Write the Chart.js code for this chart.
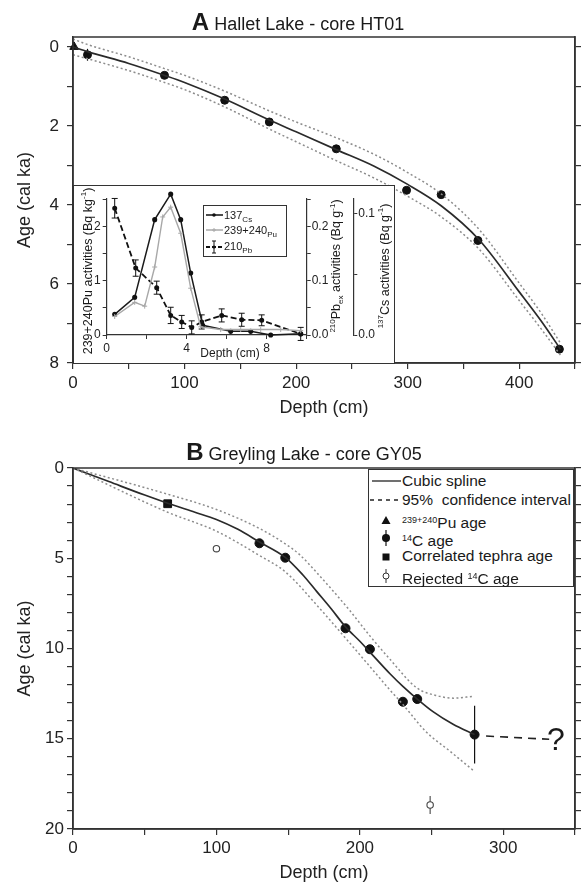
<!DOCTYPE html>
<html>
<head>
<meta charset="utf-8">
<script src="https://cdn.jsdelivr.net/npm/chart.js@4.4.1/dist/chart.umd.min.js"></script>
<style>
  body { margin: 0; background: #fff; font-family: "Liberation Sans", Arial, Helvetica, sans-serif; color: #1a1a1a; }
  #page { position: relative; width: 583px; height: 884px; overflow: hidden; background: #fff; }
  .abs { position: absolute; }
  canvas { position: absolute; }
  .title { font-size: 18px; line-height: 22px; white-space: nowrap; transform: translateX(-50%); }
  .title b { font-size: 24px; }
  .rot { white-space: nowrap; transform: translate(-50%, -50%) rotate(-90deg); font-size: 12.5px; line-height: 14px; }
  .legB { left: 368px; top: 469px; width: 206px; height: 118px; border: 1.5px solid #333; box-sizing: border-box; background: #fff; }
  .legB .row { position: absolute; left: 0; height: 18px; font-size: 15.5px; line-height: 18px; white-space: nowrap; }
  .legB .row svg { position: absolute; left: 0; top: 0; }
  .legB .row span.t { position: absolute; left: 33px; top: 0; }
  .legB sup { font-size: 9px; vertical-align: 5px; }
  .legI { left: 203px; top: 205px; width: 84px; height: 52px; border: 1.5px solid #333; box-sizing: border-box; background: #fff; }
  .legI .row { position: absolute; left: 0; height: 14px; font-size: 11px; line-height: 14px; white-space: nowrap; }
  .legI .row svg { position: absolute; left: 0; top: 0; }
  .legI .row span.t { position: absolute; left: 20px; top: 0; }
  .legI sub { font-size: 8px; vertical-align: -3px; }
</style>
</head>
<body>
<div id="page">
  <canvas id="chartA" width="583" height="425" style="left:0;top:0"></canvas>
  <canvas id="chartB" width="583" height="454" style="left:0;top:430px"></canvas>
  <canvas id="inset" width="321" height="178" style="left:73px;top:185px;background:#fff"></canvas>
  <div class="abs" style="left:73px;top:185px;width:322px;height:179px;border:1.5px solid #333;box-sizing:border-box;pointer-events:none"></div>

  <div class="abs title" style="left:298px;top:11px"><b>A</b> Hallet Lake - core HT01</div>
  <div class="abs title" style="left:304px;top:441px"><b>B</b> Greyling Lake - core GY05</div>

  <!-- inset axis titles -->
  <div class="abs rot" style="left:86px;top:271px">239+240Pu activities (Bq kg<sup style="font-size:8px">-1</sup>)</div>
  <div class="abs rot" style="left:337px;top:266px"><sup style="font-size:8px">210</sup>Pb<sub style="font-size:8px">ex</sub> activities (Bq g<sup style="font-size:8px">-1</sup>)</div>
  <div class="abs rot" style="left:383px;top:266px"><sup style="font-size:8px">137</sup>Cs activities (Bq g<sup style="font-size:8px">-1</sup>)</div>
  <div class="abs" style="left:230px;top:346px;transform:translateX(-50%);font-size:12px;line-height:14px;white-space:nowrap">Depth (cm)</div>

  <!-- inset legend -->
  <div class="abs legI">
    <div class="row" style="top:2px">
      <svg width="20" height="14"><line x1="2" y1="7" x2="19" y2="7" stroke="#111" stroke-width="1.5"/><circle cx="10" cy="7" r="1.8" fill="#111"/></svg>
      <span class="t">137<sub>Cs</sub></span>
    </div>
    <div class="row" style="top:17px">
      <svg width="20" height="14"><line x1="2" y1="7" x2="19" y2="7" stroke="#aaa" stroke-width="1.5"/><path d="M8 7h4M10 5v4" stroke="#aaa" stroke-width="1"/></svg>
      <span class="t">239+240<sub>Pu</sub></span>
    </div>
    <div class="row" style="top:33px">
      <svg width="20" height="16"><line x1="2" y1="8" x2="19" y2="8" stroke="#111" stroke-width="1.8" stroke-dasharray="4,2"/><path d="M10 2v12M8 2h4M8 14h4" stroke="#111" stroke-width="1"/><circle cx="10" cy="8" r="1.6" fill="#111"/></svg>
      <span class="t">210<sub>Pb</sub></span>
    </div>
  </div>

  <!-- panel B legend -->
  <div class="abs legB">
    <div class="row" style="top:2px">
      <svg width="32" height="18"><line x1="3" y1="9" x2="32" y2="9" stroke="#333" stroke-width="1.4"/></svg>
      <span class="t">Cubic spline</span>
    </div>
    <div class="row" style="top:21px">
      <svg width="32" height="18"><line x1="1" y1="9" x2="32" y2="9" stroke="#222" stroke-width="1.6" stroke-dasharray="4,4"/></svg>
      <span class="t">95%&nbsp; confidence interval</span>
    </div>
    <div class="row" style="top:41px">
      <svg width="32" height="18"><polygon points="17,5 21.5,13 12.5,13" fill="#111"/></svg>
      <span class="t"><sup>239+240</sup>Pu age</span>
    </div>
    <div class="row" style="top:59px">
      <svg width="32" height="18"><line x1="17" y1="1" x2="17" y2="17" stroke="#111" stroke-width="1.2"/><circle cx="17" cy="9" r="4" fill="#111"/></svg>
      <span class="t"><sup>14</sup>C age</span>
    </div>
    <div class="row" style="top:77px">
      <svg width="32" height="18"><rect x="13.5" y="6.5" width="7" height="7" fill="#111"/></svg>
      <span class="t">Correlated tephra age</span>
    </div>
    <div class="row" style="top:97px">
      <svg width="32" height="18"><line x1="17" y1="2" x2="17" y2="16" stroke="#333" stroke-width="1"/><circle cx="17" cy="9" r="3" fill="#fff" stroke="#333" stroke-width="1"/></svg>
      <span class="t">Rejected <sup>14</sup>C age</span>
    </div>
  </div>

  <div class="abs" style="left:547px;top:721px;font-size:32px;line-height:36px">?</div>
</div>

<script>
// ---- Panel A: Hallet Lake HT01 (depth cm / age cal ka) ----
const splineDepthA = [0, 13, 50, 82, 100, 136, 176, 200, 236, 270, 300, 330, 364, 400, 420, 437];
const splineAgeA   = [0, 0.12, 0.42, 0.72, 0.9, 1.32, 1.85, 2.15, 2.6, 3.02, 3.48, 4.02, 4.88, 6.2, 6.95, 7.65];
const upperAgeA    = [-0.2, -0.06, 0.25, 0.55, 0.72, 1.12, 1.62, 1.9, 2.3, 2.72, 3.18, 3.72, 4.62, 5.98, 6.75, 7.5];
const lowerAgeA    = [0.2, 0.3, 0.6, 0.9, 1.08, 1.52, 2.08, 2.4, 2.88, 3.32, 3.78, 4.3, 5.12, 6.42, 7.15, 7.8];

const c14DepthA = [13, 82, 136, 176, 236, 299, 330, 363, 436];
const c14AgeA   = [0.2, 0.72, 1.35, 1.9, 2.58, 3.63, 3.74, 4.9, 7.65];
const c14ErrA   = [0.15, 0.06, 0.06, 0.06, 0.08, 0.06, 0.08, 0.06, 0.08];
const puDepthA  = [1];
const puAgeA    = [0];

// ---- Inset: activities vs depth ----
const csDepth = [0.4, 1.4, 2.4, 3.2, 3.7, 4.2, 4.8, 6.2, 7.2, 8.2, 9.7];
const csAct   = [0.017, 0.031, 0.095, 0.116, 0.095, 0.051, 0.008, 0.003, 0.003, 0.0, 0.001];
const puDepth = [0.4, 1.4, 1.9, 2.4, 2.8, 3.2, 3.7, 4.2, 4.7, 5.7, 6.7, 7.7, 8.7, 9.7];
const puAct   = [0.34, 0.6, 0.53, 1.25, 2.17, 2.35, 1.87, 0.86, 0.15, 0.1, 0.1, 0.1, 0.1, 0.08];
const pbDepth = [0.4, 1.45, 2.5, 3.2, 3.75, 4.25, 4.75, 5.75, 6.75, 7.75, 9.7];
const pbAct   = [0.233, 0.123, 0.087, 0.036, 0.024, 0.014, 0.024, 0.036, 0.028, 0.027, 0.002];
const pbErr   = [0.018, 0.015, 0.012, 0.015, 0.012, 0.012, 0.013, 0.012, 0.012, 0.01, 0.012];

// ---- Panel B: Greyling Lake GY05 ----
const splineDepthB = [0, 25, 50, 66, 85, 100, 115, 130, 148, 160, 170, 180, 190, 200, 207, 221, 230, 240, 251, 265, 280];
const splineAgeB   = [0, 0.75, 1.5, 1.95, 2.45, 2.85, 3.4, 4.1, 4.95, 5.9, 6.85, 7.8, 8.8, 9.6, 10.2, 11.4, 12.1, 12.8, 13.5, 14.2, 14.77];
const upperDepthB  = [0, 66, 100, 130, 148, 158, 170, 193, 207, 221, 240, 253, 265, 279];
const upperAgeB    = [0, 1.45, 2.3, 3.35, 4.2, 4.8, 5.8, 7.9, 9.3, 10.6, 12.2, 12.6, 12.75, 12.65];
const lowerDepthB  = [0, 66, 100, 130, 148, 170, 193, 207, 221, 230, 246, 263, 279];
const lowerAgeB    = [0, 2.45, 3.5, 4.85, 5.75, 7.6, 9.7, 11.0, 12.3, 13.1, 14.6, 15.7, 16.75];

const c14DepthB = [130, 148, 190, 207, 230, 240, 280];
const c14AgeB   = [4.17, 4.97, 8.88, 10.04, 12.95, 12.8, 14.77];
const c14ErrB   = [0.12, 0.2, 0.12, 0.12, 0.1, 0.12, 1.6];
const tephraDepthB = [66];
const tephraAgeB   = [1.98];
const rejDepthB = [100, 249];
const rejAgeB   = [4.47, 18.67];
const rejErrB   = [0.1, 0.5];
const extrapDepthB = [288, 332];
const extrapAgeB   = [14.85, 15.03];

Chart.defaults.font.family = '"Liberation Sans", Arial, Helvetica, sans-serif';
Chart.defaults.color = '#222';

const pts = (xs, ys) => xs.map((x, i) => ({ x, y: ys[i] }));

// fixes a scale's size so the plot area lands where the figure has it
const fixSize = (w, h) => s => {
    if (w != null) s.width = w;
    if (h != null) s.height = h;
    s.paddingLeft = s.paddingRight = s.paddingTop = s.paddingBottom = 0;
};
const keepWhole = step => s => {
    s.ticks = s.ticks.filter(t => Math.abs(t.value / step - Math.round(t.value / step)) < 1e-6);
};
// one tick per whole unit inside the axis range
const wholeTicks = s => {
    s.ticks = [];
    for (let v = Math.ceil(s.min); v <= s.max; v++) s.ticks.push({ value: v });
};

// vertical error bars, drawn under the points of the dataset
const errorBars = {
    id: 'errorBars',
    beforeDatasetDraw(chart, args) {
        const ds = chart.data.datasets[args.index];
        if (!ds.errs) return;
        const ctx = chart.ctx;
        const xs = chart.scales[ds.xAxisID || 'x'];
        const ys = chart.scales[ds.yAxisID || 'y'];
        ctx.save();
        ctx.strokeStyle = ds.errColor || '#111';
        ctx.lineWidth = ds.errWidth || 1.2;
        ds.data.forEach((p, i) => {
            const e = ds.errs[i];
            if (!e) return;
            const x = xs.getPixelForValue(p.x);
            const y1 = ys.getPixelForValue(p.y - e);
            const y2 = ys.getPixelForValue(p.y + e);
            ctx.beginPath();
            ctx.moveTo(x, y1); ctx.lineTo(x, y2);
            if (ds.errCap) {
                ctx.moveTo(x - ds.errCap, y1); ctx.lineTo(x + ds.errCap, y1);
                ctx.moveTo(x - ds.errCap, y2); ctx.lineTo(x + ds.errCap, y2);
            }
            ctx.stroke();
        });
        ctx.restore();
    }
};

// closes the box along the top
const frame = {
    id: 'frame',
    afterDraw(chart) {
        const { ctx, chartArea: a } = chart;
        ctx.save();
        ctx.strokeStyle = '#333';
        ctx.lineWidth = 1.5;
        ctx.strokeRect(a.left, a.top, a.right - a.left, a.bottom - a.top);
        ctx.restore();
    }
};

const tickGrid = { drawOnChartArea: false, drawTicks: true, tickLength: 6, color: '#333', lineWidth: 1.2 };
const axisBorder = { color: '#333', width: 1.5 };

function bandLine(data) {
    return { data, showLine: true, borderColor: '#8c8c8c', borderWidth: 1.5, borderDash: [2, 2.5],
             pointRadius: 0, cubicInterpolationMode: 'monotone' };
}
function splineLine(data) {
    return { data, showLine: true, borderColor: '#2a2a2a', borderWidth: 1.7, pointRadius: 0,
             cubicInterpolationMode: 'monotone' };
}

function ageDepthOptions(cfg) {
    return {
        responsive: false,
        animation: false,
        events: [],
        layout: { padding: { top: cfg.top, left: 0, right: 0, bottom: 0 } },
        plugins: { legend: { display: false }, tooltip: { enabled: false } },
        scales: {
            x: {
                type: 'linear', position: 'bottom', min: 0, max: cfg.xMax,
                ticks: { stepSize: 50, autoSkip: false, maxRotation: 0, padding: cfg.xPad, font: { size: 17 },
                         callback: v => v % 100 === 0 ? v : '' },
                grid: tickGrid, border: axisBorder,
                title: { display: true, text: 'Depth (cm)', font: { size: 18 }, padding: { top: 0, bottom: cfg.xTitlePad } },
                afterFit: fixSize(null, cfg.xHeight)
            },
            y: {
                position: 'left', reverse: true, min: cfg.yMin, max: cfg.yMax,
                afterBuildTicks: wholeTicks,
                ticks: { stepSize: 1, autoSkip: false, padding: cfg.yPad, font: { size: 17 },
                         callback: v => v % cfg.yLabelStep === 0 ? String(v) : '' },
                grid: tickGrid, border: axisBorder,
                title: { display: true, text: 'Age (cal ka)', font: { size: 18 }, padding: { top: 14, bottom: 0 } },
                afterFit: fixSize(73, null)
            },
            yr: {
                position: 'right', reverse: true, min: cfg.yMin, max: cfg.yMax,
                afterBuildTicks: wholeTicks,
                ticks: { stepSize: 1, display: false },
                grid: tickGrid, border: axisBorder,
                afterFit: fixSize(cfg.rightW, null)
            }
        }
    };
}

new Chart(document.getElementById('chartA'), {
    type: 'scatter',
    data: {
        datasets: [
            bandLine(pts(splineDepthA, upperAgeA)),
            bandLine(pts(splineDepthA, lowerAgeA)),
            splineLine(pts(splineDepthA, splineAgeA)),
            { data: pts(c14DepthA, c14AgeA), errs: c14ErrA, pointRadius: 4, pointBackgroundColor: '#111',
              pointBorderColor: '#111', clip: false },
            { data: pts(puDepthA, puAgeA), pointStyle: 'triangle', pointRadius: 5, pointBackgroundColor: '#111',
              pointBorderColor: '#111', clip: false }
        ]
    },
    options: ageDepthOptions({ top: 37, xMax: 450, xHeight: 62, xPad: 4, xTitlePad: 6, yMin: -0.25, yMax: 8,
                               yLabelStep: 2, yPad: 8, rightW: 8 }),
    plugins: [errorBars, frame]
});

new Chart(document.getElementById('chartB'), {
    type: 'scatter',
    data: {
        datasets: [
            bandLine(pts(upperDepthB, upperAgeB)),
            bandLine(pts(lowerDepthB, lowerAgeB)),
            splineLine(pts(splineDepthB, splineAgeB)),
            { data: pts(extrapDepthB, extrapAgeB), showLine: true, borderColor: '#222', borderWidth: 1.6,
              borderDash: [8, 6], pointRadius: 0, clip: false },
            { data: pts(c14DepthB, c14AgeB), errs: c14ErrB, pointRadius: 4.5, pointBackgroundColor: '#111',
              pointBorderColor: '#111', clip: false },
            { data: pts(tephraDepthB, tephraAgeB), pointStyle: 'rect', pointRadius: 5.5, pointBackgroundColor: '#111',
              pointBorderColor: '#111' },
            { data: pts(rejDepthB, rejAgeB), errs: rejErrB, errColor: '#444', errWidth: 1.1, pointRadius: 3.2,
              pointBackgroundColor: '#fff', pointBorderColor: '#444', pointBorderWidth: 1.1 }
        ]
    },
    options: ageDepthOptions({ top: 38, xMax: 350, xHeight: 55, xPad: 3, xTitlePad: 0, yMin: 0, yMax: 20,
                               yLabelStep: 5, yPad: 3, rightW: 8 }),
    plugins: [errorBars, frame]
});

// ---- inset ----
const insetGrid = { drawOnChartArea: false, drawTicks: true, tickLength: 4, color: '#333', lineWidth: 1 };
const insetBorder = { color: '#333', width: 1.2 };
const small = { size: 12 };

new Chart(document.getElementById('inset'), {
    type: 'scatter',
    data: {
        datasets: [
            { data: pts(puDepth, puAct), yAxisID: 'yPu', showLine: true, borderColor: '#a8a8a8', borderWidth: 1.4,
              pointStyle: 'cross', pointRadius: 2.5, pointBorderColor: '#a8a8a8', pointBorderWidth: 1, clip: false },
            { data: pts(csDepth, csAct), yAxisID: 'yCs', showLine: true, borderColor: '#1a1a1a', borderWidth: 1.5,
              pointRadius: 1.8, pointBackgroundColor: '#111', pointBorderColor: '#111', clip: false },
            { data: pts(pbDepth, pbAct), yAxisID: 'yPb', errs: pbErr, errCap: 3, errWidth: 1, showLine: true,
              borderColor: '#111', borderWidth: 1.8, borderDash: [6, 3], pointRadius: 1.6,
              pointBackgroundColor: '#111', pointBorderColor: '#111', clip: false }
        ]
    },
    options: {
        responsive: false,
        animation: false,
        events: [],
        layout: { padding: { top: 14, left: 0, right: 0, bottom: 0 } },
        plugins: { legend: { display: false }, tooltip: { enabled: false } },
        scales: {
            x: {
                type: 'linear', min: 0, max: 10,
                ticks: { stepSize: 2, autoSkip: false, maxRotation: 0, padding: 2, font: small,
                         callback: v => v % 4 === 0 ? v : '' },
                grid: insetGrid, border: insetBorder,
                afterFit: fixSize(null, 28)
            },
            yPu: {
                position: 'left', min: 0, max: 2.5,
                afterBuildTicks: keepWhole(0.5),
                ticks: { stepSize: 0.5, autoSkip: false, padding: 2, font: small,
                         callback: v => Number.isInteger(v) ? v : '' },
                grid: insetGrid, border: insetBorder,
                afterFit: fixSize(33.7, null)
            },
            yPb: {
                position: 'right', weight: 1, min: 0, max: 0.25,
                afterBuildTicks: keepWhole(0.05),
                ticks: { stepSize: 0.05, autoSkip: false, padding: 1, font: small,
                         callback: v => Math.round(v * 100) % 10 === 0 ? v.toFixed(1) : '' },
                grid: insetGrid, border: insetBorder,
                afterFit: fixSize(46.6, null)
            },
            yCs: {
                position: 'right', weight: 2, min: 0, max: 0.112,
                afterBuildTicks: keepWhole(0.05),
                ticks: { stepSize: 0.05, autoSkip: false, padding: 1, font: small,
                         callback: v => Math.round(v * 100) % 10 === 0 ? v.toFixed(1) : '' },
                grid: insetGrid, border: insetBorder,
                afterFit: fixSize(40.7, null)
            }
        }
    },
    plugins: [errorBars]
});
</script>
</body>
</html>
